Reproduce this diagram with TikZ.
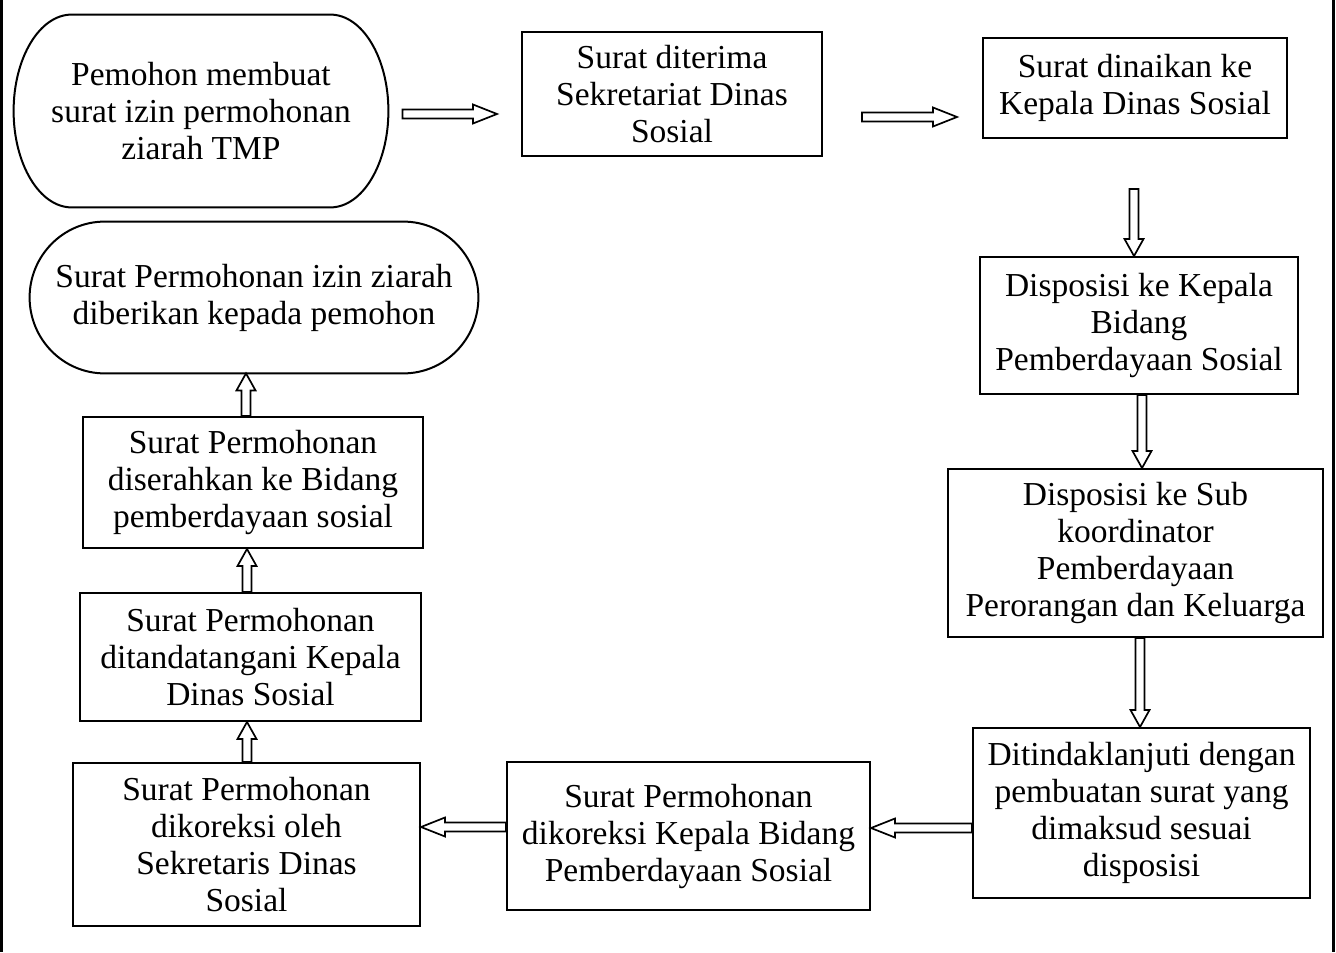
\documentclass[tikz,border=0pt]{standalone}
\usepackage{fontspec}
\setmainfont{Liberation Serif}
\usetikzlibrary{calc}
\tikzset{
  stepbox/.style={draw, line width=1pt, inner sep=0pt, align=center,
    font=\fontsize{16.75}{18.5}\selectfont},
  termbox/.style={inner sep=0pt, align=center, font=\fontsize{16.75}{18.5}\selectfont},
  termline/.style={line width=1pt},
  blockarr/.style={draw, line width=0.85pt, fill=white, line join=miter},
  pageline/.style={line width=1.5pt}
}
% box: name, x0, y0, x1, y1, text (pixel coordinates, y downwards)
\newcommand\boxnode[6]{\node[stepbox, minimum width={(#4-#2)*0.5pt}, minimum height={(#5-#3)*0.5pt}] (#1) at ({(#2+#4)/2},{(#3+#5)/2}) {#6};}
\newcommand\termnode[6]{\node[termbox, minimum width={(#4-#2)*0.5pt}, minimum height={(#5-#3)*0.5pt}] (#1) at ({(#2+#4)/2},{(#3+#5)/2}) {#6};}
% terminal outline: name, rx, ry (pixels)
\newcommand\termpath[3]{%
  \draw[termline] ($(#1.north west)+(#2,0)$) -- ($(#1.north east)+(-#2,0)$)
   .. controls ($(#1.north east)+(-0.4477*#2,0)$) and ($(#1.east)+(0,-0.5523*#3)$) .. (#1.east)
   .. controls ($(#1.east)+(0,0.5523*#3)$) and ($(#1.south east)+(-0.4477*#2,0)$) .. ($(#1.south east)+(-#2,0)$)
   -- ($(#1.south west)+(#2,0)$)
   .. controls ($(#1.south west)+(0.4477*#2,0)$) and ($(#1.west)+(0,0.5523*#3)$) .. (#1.west)
   .. controls ($(#1.west)+(0,-0.5523*#3)$) and ($(#1.north west)+(0.4477*#2,0)$) .. ($(#1.north west)+(#2,0)$)
   -- cycle;}
% block arrows
\newcommand\arrR[2]{\path[blockarr] let \p1=#1, \p2=#2 in
  (\x1,{\y1+2.25pt}) -- ({\x2-12pt},{\y1+2.25pt}) -- ({\x2-12pt},{\y1+4.75pt}) -- (\x2,\y1)
  -- ({\x2-12pt},{\y1-4.75pt}) -- ({\x2-12pt},{\y1-2.25pt}) -- (\x1,{\y1-2.25pt}) -- cycle;}
\newcommand\arrL[2]{\path[blockarr] let \p1=#1, \p2=#2 in
  (\x1,{\y1+2.25pt}) -- ({\x2+12pt},{\y1+2.25pt}) -- ({\x2+12pt},{\y1+4.75pt}) -- (\x2,\y1)
  -- ({\x2+12pt},{\y1-4.75pt}) -- ({\x2+12pt},{\y1-2.25pt}) -- (\x1,{\y1-2.25pt}) -- cycle;}
\newcommand\arrD[2]{\path[blockarr] let \p1=#1, \p2=#2 in
  ({\x1-2.25pt},\y1) -- ({\x1-2.25pt},{\y2+8.5pt}) -- ({\x1-4.75pt},{\y2+8.5pt}) -- (\x1,\y2)
  -- ({\x1+4.75pt},{\y2+8.5pt}) -- ({\x1+2.25pt},{\y2+8.5pt}) -- ({\x1+2.25pt},\y1) -- cycle;}
\newcommand\arrU[2]{\path[blockarr] let \p1=#1, \p2=#2 in
  ({\x1-2.25pt},\y1) -- ({\x1-2.25pt},{\y2-8.5pt}) -- ({\x1-4.75pt},{\y2-8.5pt}) -- (\x1,\y2)
  -- ({\x1+4.75pt},{\y2-8.5pt}) -- ({\x1+2.25pt},{\y2-8.5pt}) -- ({\x1+2.25pt},\y1) -- cycle;}
\begin{document}
\begin{tikzpicture}[x=0.5pt,y=-0.5pt]
\useasboundingbox (0,0) rectangle (1336,952);
\fill[white] (0,0) rectangle (1336,952);
\draw[pageline] (1.5,0) coordinate (pl1) -- (1.5,952) coordinate (pl2);
\draw[pageline] (1333,0) coordinate (pr1) -- (1333,952) coordinate (pr2);

\termnode{b1}{14}{15}{388}{207}{Pemohon membuat\\surat izin permohonan\\ziarah TMP}
\termpath{b1}{58}{96}
\boxnode{b2}{522}{32}{822}{156}{Surat diterima\\Sekretariat Dinas\\Sosial}
\boxnode{b3}{983}{38}{1287}{138}{Surat dinaikan ke\\Kepala Dinas Sosial}
\boxnode{b4}{980}{257}{1298}{394}{Disposisi ke Kepala\\Bidang\\Pemberdayaan Sosial}
\boxnode{b5}{948}{469}{1323}{637}{Disposisi ke Sub\\koordinator\\Pemberdayaan\\Perorangan dan Keluarga}
\boxnode{b6}{973}{728}{1310}{898}{Ditindaklanjuti dengan\\pembuatan surat yang\\dimaksud sesuai\\disposisi}
\boxnode{b7}{507}{762}{870}{910}{Surat Permohonan\\dikoreksi Kepala Bidang\\Pemberdayaan Sosial}
\boxnode{b8}{73}{763}{420}{926}{Surat Permohonan\\dikoreksi oleh\\Sekretaris Dinas\\Sosial}
\boxnode{b9}{80}{593}{421}{721}{Surat Permohonan\\ditandatangani Kepala\\Dinas Sosial}
\boxnode{b10}{83}{417}{423}{548}{Surat Permohonan\\diserahkan ke Bidang\\pemberdayaan sosial}
\termnode{b11}{30}{222}{478}{373}{Surat Permohonan izin ziarah\\diberikan kepada pemohon}
\termpath{b11}{75}{75.5}

\arrR{($(b1.east)+(14,3)$)}{($(b2.west)+(-24,0)$)}
\arrR{($(b2.east)+(39,23)$)}{($(b3.west)+(-25,0)$)}
\arrD{($(b3.south)+(-1,50)$)}{(b4.north)}
\arrD{($(b4.south)+(3,0)$)}{(b5.north)}
\arrD{($(b5.south)+(4.5,0)$)}{(b6.north)}
\arrL{($(b6.west)+(0,15)$)}{(b7.east)}
\arrL{($(b7.west)+(0,-9)$)}{(b8.east)}
\arrU{($(b8.north)+(0.5,0)$)}{($(b9.south)+(-3.5,0)$)}
\arrU{($(b9.north)+(-3.5,0)$)}{(b10.south)}
\arrU{($(b10.north)+(-7,0)$)}{($(b11.south)+(-7,0)$)}
\end{tikzpicture}
\end{document}
